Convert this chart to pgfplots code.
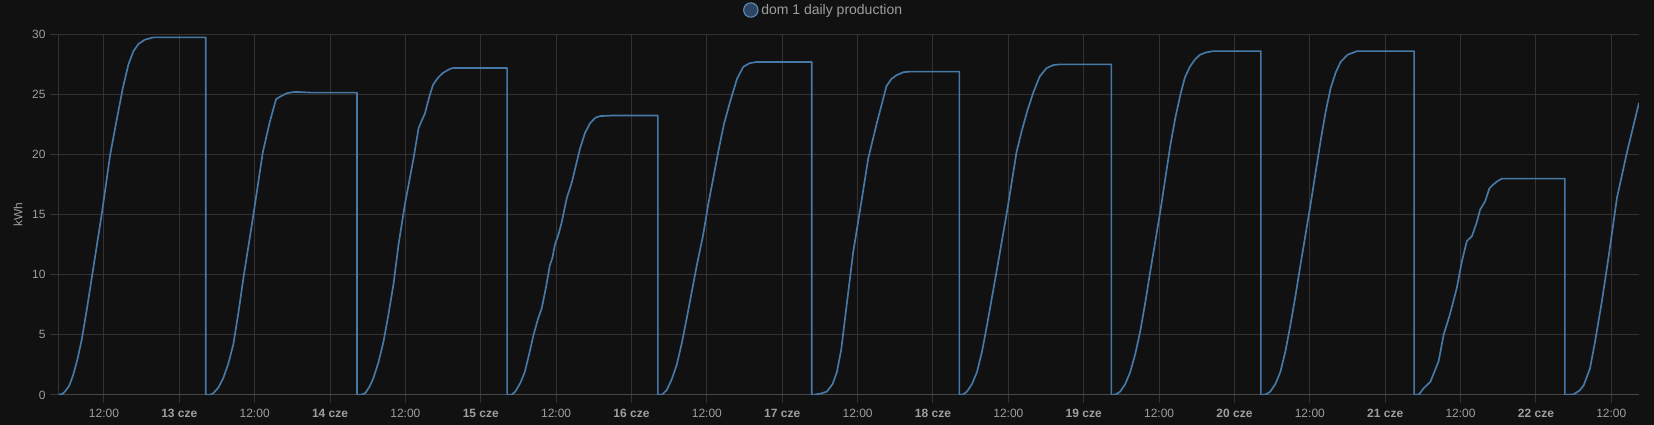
\documentclass[border=0pt]{standalone}
\usepackage{pgfplots}
\pgfplotsset{compat=1.18}
\usepackage{fontspec}
\setmainfont{Liberation Sans}
\definecolor{bg}{HTML}{111111}
\definecolor{gridcol}{HTML}{333333}
\definecolor{axiscol}{HTML}{474747}
\definecolor{textcol}{HTML}{9E9E9E}
\definecolor{lineblue}{HTML}{4779A8}
\definecolor{legfill}{HTML}{2B4563}

\begin{document}
\begin{tikzpicture}
\fill[bg] (0,0) rectangle (1240.5pt,318.75pt);
\begin{axis}[
    at={(43.7pt,22.5pt)}, anchor=south west,
    scale only axis, width=1185.5pt, height=270.5pt,
    xmin=-19.27, xmax=232.4, ymin=0, ymax=30,
    enlargelimits=false,
    axis lines=left,
    axis line style={-, draw=gridcol, line width=0.75pt},
    x axis line style={draw=axiscol},
    grid=major,
    major grid style={draw=gridcol, line width=0.75pt},
    tick align=outside, major tick length=6pt,
    tick style={draw=gridcol, line width=0.75pt},
    xtick={-12,0,...,228},
    xticklabels={12:00,\textbf{13 cze},12:00,\textbf{14 cze},12:00,\textbf{15 cze},12:00,\textbf{16 cze},12:00,\textbf{17 cze},12:00,\textbf{18 cze},12:00,\textbf{19 cze},12:00,\textbf{20 cze},12:00,\textbf{21 cze},12:00,\textbf{22 cze},12:00},
    xticklabel style={text height=7pt, text depth=1pt},
    ytick={0,5,...,30},
    /pgf/number format/assume math mode=true,
    ticklabel style={font=\fontsize{9}{10}\selectfont, text=textcol},
    ylabel={kWh},
    every axis y label/.style={at={(axis description cs:-0.0255,0.5)}, rotate=90, anchor=center, font=\fontsize{9}{10}\selectfont, text=textcol},
    legend style={at={(axis description cs:0.4844,1.0674)}, anchor=center, draw=none, fill=none, text=textcol, font=\fontsize{10.5}{12}\selectfont},
]
\addplot[lineblue, line width=1.25pt, line join=round,
    legend image code/.code={\draw[draw=lineblue!85, fill=legfill, line width=0.8pt] (0pt,0pt) circle (5.4pt);}]
coordinates {
(-19.27,0) (-18.6,0.1) (-18.2,0.28) (-17.5,0.8) (-16.9,1.66) (-16.2,3.0) (-15.5,4.7) (-14.7,7.2) (-13.95,9.7) (-12.36,15.0) (-11.0,20.0) (-10.0,22.8) (-9.0,25.5) (-8.1,27.5) (-7.3,28.6) (-6.5,29.2) (-5.5,29.55) (-4.1,29.75) (4.2,29.75) (4.2,0)
(4.8,0) (5.4,0.14) (6.2,0.6) (7.0,1.4) (7.8,2.6) (8.6,4.2) (9.4,6.8) (10.2,9.7) (11.8,15.0) (13.3,20.2) (14.4,22.7) (15.4,24.6) (16.0,24.8) (17.1,25.1) (18.2,25.2) (19.2,25.2) (21,25.15) (28.3,25.15) (28.3,0)
(29.0,0.02) (29.6,0.15) (30.3,0.7) (30.9,1.4) (31.7,2.7) (32.5,4.4) (33.3,6.7) (34.1,9.2) (34.9,12.5) (35.9,15.8) (37.3,19.7) (38.1,22.2) (38.5,22.7) (39.1,23.4) (39.8,24.8) (40.4,25.8) (41.2,26.4) (42.0,26.8) (43.0,27.1) (43.6,27.2) (52.2,27.2) (52.2,0)
(52.9,0.02) (53.5,0.28) (54.3,1.0) (55.0,1.9) (55.7,3.4) (56.4,5.0) (57.1,6.3) (57.7,7.2) (58.4,9.0) (59.0,10.8) (59.4,11.4) (59.8,12.5) (60.4,13.4) (60.9,14.4) (61.7,16.4) (62.2,17.2) (62.5,17.7) (63.2,19.2) (63.8,20.5) (64.6,21.8) (65.4,22.6) (66.2,23.05) (67.0,23.2) (69.1,23.25) (76.2,23.25) (76.2,0)
(76.9,0.05) (77.6,0.4) (78.4,1.3) (79.2,2.5) (80.0,4.3) (80.8,6.4) (81.6,8.6) (82.4,10.8) (83.4,13.3) (84.2,15.8) (85.0,18.0) (85.8,20.2) (86.7,22.5) (87.7,24.4) (88.8,26.3) (89.8,27.3) (90.8,27.6) (91.9,27.7) (100.7,27.7) (100.7,0)
(102.0,0.1) (103.1,0.28) (104.0,0.9) (104.7,1.9) (105.4,3.8) (106.0,6.4) (107.3,11.9) (108.7,16.4) (109.7,19.7) (111.1,22.7) (112.6,25.7) (113.4,26.3) (114.2,26.6) (115.3,26.85) (116.4,26.9) (124.2,26.9) (124.2,0)
(124.8,0.05) (125.4,0.28) (126.2,0.9) (127.0,1.9) (127.8,3.6) (128.6,5.8) (130.2,10.5) (131.8,15.3) (133.3,20.2) (134.1,21.9) (135.0,23.6) (136.0,25.2) (137.0,26.5) (138.1,27.2) (139.2,27.45) (140.2,27.5) (148.4,27.5) (148.4,0)
(149.1,0.05) (149.8,0.28) (150.6,0.9) (151.4,1.9) (152.2,3.4) (153.0,5.3) (153.8,7.7) (154.6,10.3) (156.2,15.3) (157.8,20.8) (158.6,23.1) (159.4,25.0) (160.1,26.4) (160.9,27.3) (161.7,27.9) (162.5,28.3) (163.5,28.5) (164.6,28.6) (172.2,28.6) (172.2,0)
(173.0,0.05) (173.7,0.28) (174.5,0.9) (175.3,1.9) (176.1,3.6) (176.9,5.8) (177.7,8.2) (178.5,10.8) (180.1,15.8) (181.7,21.1) (182.5,23.5) (183.3,25.5) (184.1,26.8) (184.9,27.7) (186.0,28.3) (187.5,28.6) (196.6,28.6) (196.6,0)
(197.4,0.05) (198.1,0.55) (199.2,1.1) (200.5,2.8) (201.3,5.0) (202.3,6.7) (203.4,8.9) (204.2,11.1) (205.0,12.8) (205.8,13.2) (206.6,14.4) (207.1,15.4) (207.9,16.1) (208.6,17.2) (209.2,17.5) (209.9,17.8) (210.6,18.0) (213.0,18.0) (220.6,18.0) (220.6,0)
(222.0,0.05) (223.0,0.4) (223.6,0.8) (224.6,2.2) (225.4,4.4) (226.5,7.8) (227.6,11.6) (228.9,16.4) (230.5,20.2) (232.4,24.3)
};
\addlegendentry{dom 1 daily production}
\end{axis}
\pgfresetboundingbox
\path[use as bounding box] (0,0) rectangle (1240.5pt,318.75pt);
\end{tikzpicture}
\end{document}
